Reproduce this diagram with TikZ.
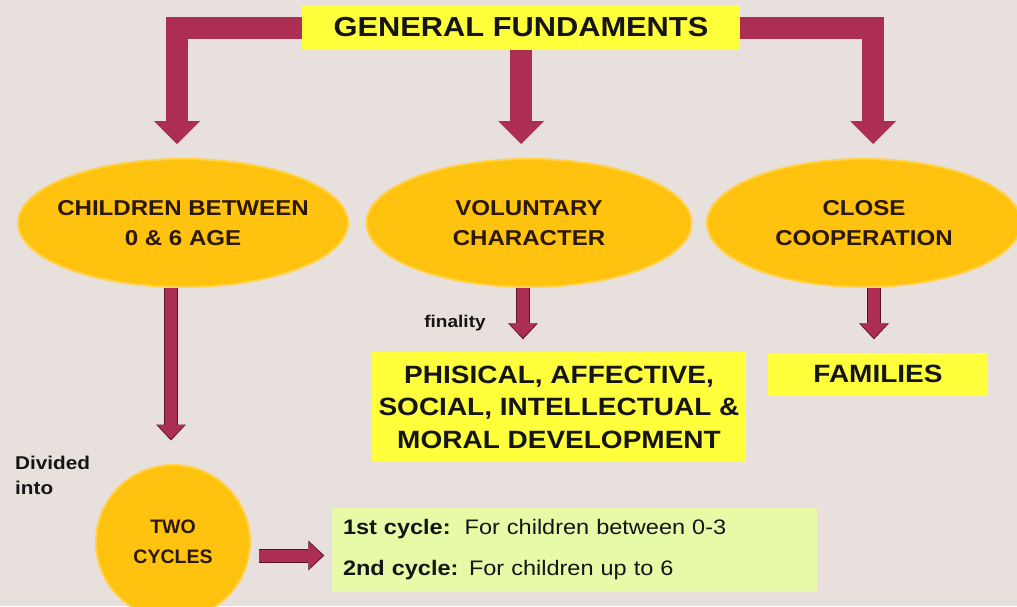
\documentclass[tikz,border=0pt]{standalone}
\usepackage{fontspec}
\setmainfont{Liberation Sans}[FakeStretch=1.12]
\newfontfamily\narrowf{Liberation Sans}
\usetikzlibrary{arrows.meta,shapes.geometric}
\definecolor{bgc}{HTML}{E8E0DD}
\definecolor{yel}{HTML}{FFFF3B}
\definecolor{gold}{HTML}{FFC20F}
\definecolor{goldedge}{HTML}{FFD24A}
\definecolor{crim}{HTML}{AD2E54}
\definecolor{crimedge}{HTML}{5A1226}
\definecolor{lime}{HTML}{E6FAA8}
\definecolor{txt}{HTML}{151515}
\definecolor{brn}{HTML}{2A1800}
\begin{document}
\begin{tikzpicture}[x=1pt,y=-1pt,
  ybox/.style={fill=yel, inner sep=0pt, text=txt},
  gel/.style={ellipse, fill=gold, draw=goldedge, line width=2pt, minimum height=128pt,
    inner xsep=-40pt, inner ysep=0pt, align=center, text=brn,
    font=\fontsize{21.5}{30}\selectfont\bfseries},
  bigarrow/.style={draw=crim, line width=22pt,
    -{Triangle[width=46pt,length=23pt,line width=0pt]}, shorten >=14pt},
  smallout/.style={draw=crimedge, line width=14pt,
    -{Triangle[width=30pt,length=16pt,line width=0pt]}},
  smallin/.style={draw=crim, line width=12pt,
    -{Triangle[width=27pt,length=14pt,line width=0pt]}}
]
\fill[bgc] (0,0) rectangle (1017,606);
\useasboundingbox (0,0) rectangle (1017,606);

% nodes
\node[ybox, minimum width=438pt, minimum height=45pt,
  font=\fontsize{27.5}{30}\selectfont\bfseries] (gf) at (521,27.5) {GENERAL FUNDAMENTS};
\node[gel, minimum width=330pt] (ch) at (183,223) {CHILDREN BETWEEN\\0 \& 6 AGE};
\node[gel, minimum width=325pt] (vo) at (529,223) {VOLUNTARY\\CHARACTER};
\node[gel, minimum width=314pt] (co) at (864,223) {CLOSE\\COOPERATION};
\node[ybox, minimum width=374pt, minimum height=110pt, align=center,
  font=\fontsize{25}{32.5}\selectfont\bfseries] (ph) at (559,407)
  {PHISICAL, AFFECTIVE,\\SOCIAL, INTELLECTUAL \&\\MORAL DEVELOPMENT};
\node[ybox, minimum width=220pt, minimum height=43pt,
  font=\fontsize{25}{30}\selectfont\bfseries] (fa) at (878,374) {FAMILIES};
\node[circle, fill=gold, draw=goldedge, line width=2pt, minimum size=154pt, inner sep=0pt,
  align=center, text=brn, font=\narrowf\fontsize{19.5}{30}\selectfont\bfseries]
  (tc) at (173,542) {TWO\\CYCLES};
\node[fill=lime, minimum width=485pt, minimum height=84pt, text width=463pt,
  inner xsep=11pt, align=left, text=txt, font=\fontsize{21}{41}\selectfont]
  (cy) at (574.5,550)
  {\textbf{1st cycle:}\ \ For children between 0-3\\\textbf{2nd cycle:} For children up to 6};
\node[text=txt, font=\fontsize{17}{20}\selectfont\bfseries] (fin) at (455,323) {finality};
\node[text=txt, anchor=west, inner sep=0pt, align=left,
  font=\fontsize{18.5}{25}\selectfont\bfseries] (div) at (15,475.5) {Divided\\into};

% big arrows from the top box
\draw[bigarrow] (gf.west) -| ([xshift=-6pt]ch.north);
\draw[bigarrow] (gf.south) -- (gf.south |- vo.north);
\draw[bigarrow] (gf.east) -| ([xshift=9pt]co.north);

% small arrows
\coordinate (a1) at ([xshift=-12pt]ch.south);
\coordinate (a2) at ([xshift=-6pt]vo.south);
\coordinate (a3) at ([xshift=10pt]co.south);
\coordinate (a4) at ([xshift=8pt,yshift=-13.5pt]tc.east);
\draw[smallout, shorten >=23.5pt] (a1) -- (a1 |- tc.north);
\draw[smallin, shorten >=25pt] (a1) -- (a1 |- tc.north);
\draw[smallout, shorten >=12.5pt] (a2) -- (a2 |- ph.north);
\draw[smallin, shorten >=14pt] (a2) -- (a2 |- ph.north);
\draw[smallout, shorten >=13pt] (a3) -- (a3 |- fa.north);
\draw[smallin, shorten >=14.5pt] (a3) -- (a3 |- fa.north);
\draw[smallout, shorten >=7.5pt] (a4) -- (a4 -| cy.west);
\draw[smallin, shorten >=9pt] (a4) -- (a4 -| cy.west);
\end{tikzpicture}
\end{document}
